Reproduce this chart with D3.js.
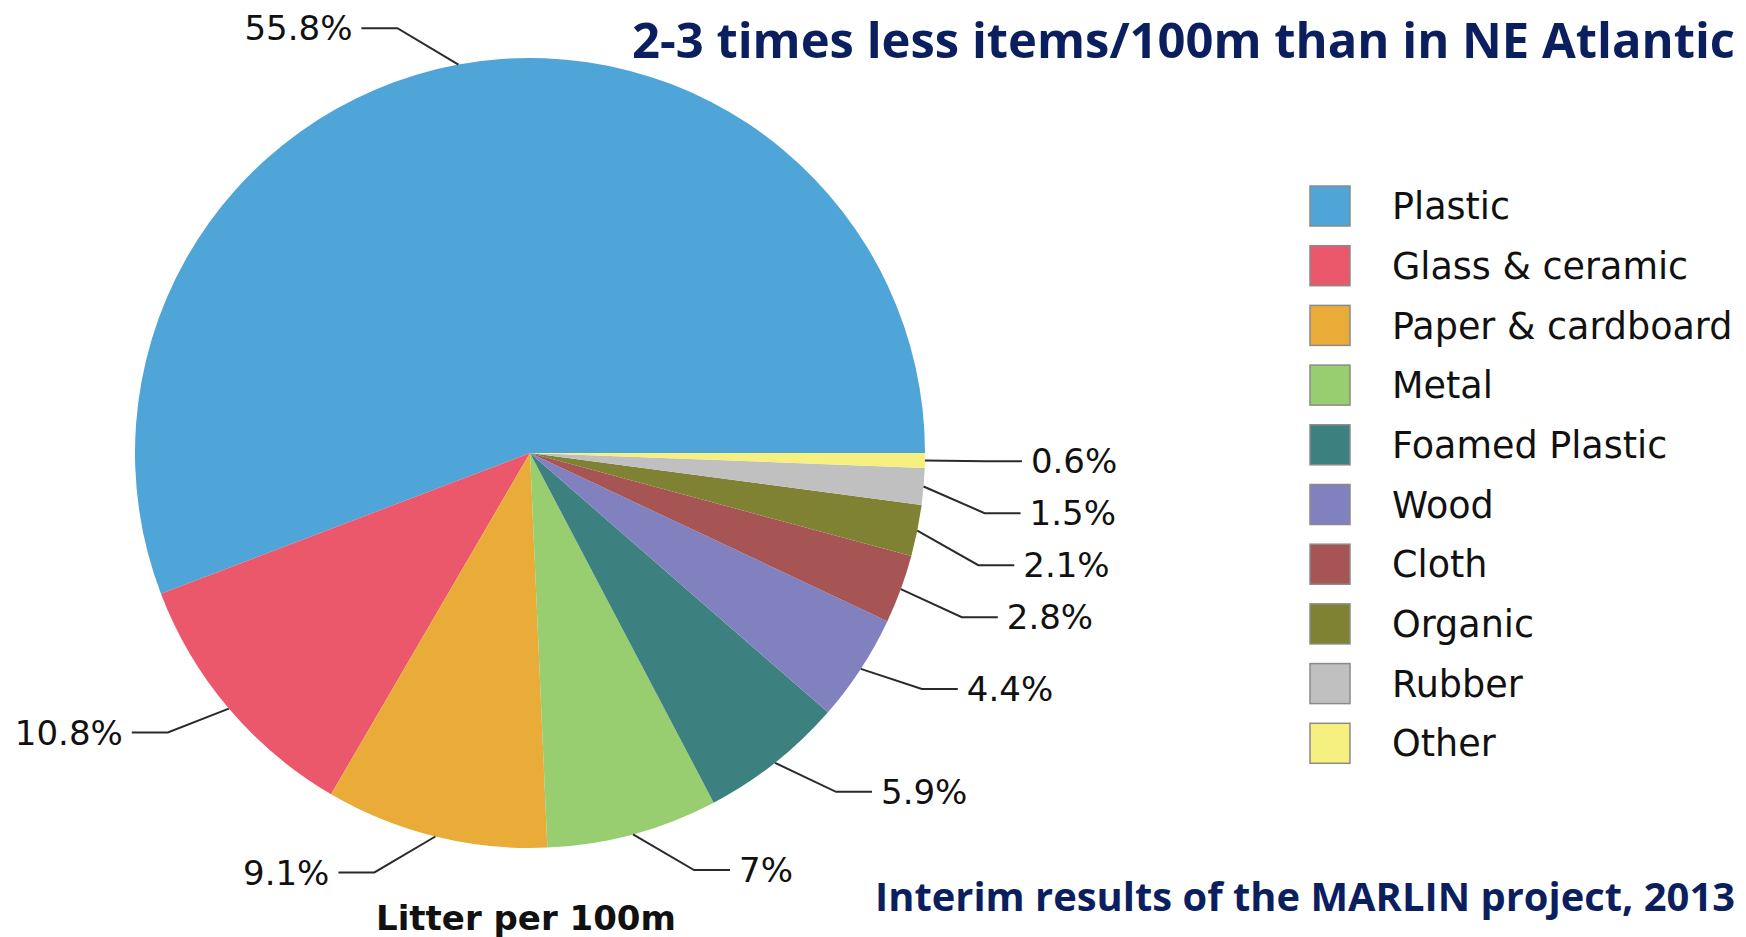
<!DOCTYPE html>
<html>
<head>
<meta charset="utf-8">
<script src="https://cdn.jsdelivr.net/npm/d3@7"></script>
<style>
  html, body { margin: 0; padding: 0; background: #fff; }
  svg { display: block; }
  .pctLabel { font-family: "DejaVu Sans", sans-serif; font-size: 34px; fill: #111; }
  .legendLabel { font-family: "DejaVu Sans", sans-serif; font-size: 36.5px; fill: #111; }
  .leader { fill: none; stroke: #2a2a2a; stroke-width: 2; }
  .headline { font-family: "Open Sans", sans-serif; font-weight: 700; fill: #0b1f5e; }
</style>
</head>
<body>
<svg id="chart" width="1746" height="937"></svg>
<script>
const categories = ['Plastic', 'Glass & ceramic', 'Paper & cardboard', 'Metal', 'Foamed Plastic',
  'Wood', 'Cloth', 'Organic', 'Rubber', 'Other']
const shares = [55.8, 10.8, 9.1, 7, 5.9, 4.4, 2.8, 2.1, 1.5, 0.6]
const shareLabels = ['55.8%', '10.8%', '9.1%', '7%', '5.9%', '4.4%', '2.8%', '2.1%', '1.5%', '0.6%']
const colors = ['#4fa4d8', '#eb586b', '#e9ac38', '#98cd70', '#3d8080',
  '#8181c0', '#a65454', '#7f8233', '#c0c0c0', '#f5f080']
const title = '2-3 times less items/100m than in NE Atlantic'
const subtitle = 'Interim results of the MARLIN project, 2013'
const pieTitle = 'Litter per 100m'

const dim = { cx: 530, cy: 453, r: 395 }
const svg = d3.select('#chart')

// slices run counterclockwise from 3 o'clock
const pie = d3.pie().sort(null).value((d) => d)
  .startAngle(Math.PI / 2).endAngle(Math.PI / 2 - 2 * Math.PI)
const arcs = pie(shares)
const arc = d3.arc().innerRadius(0).outerRadius(dim.r)
const color = d3.scaleOrdinal().domain(categories).range(colors)

const g = svg.append('g').attr('transform', `translate(${dim.cx},${dim.cy})`)

g.selectAll('path.slice')
  .data(arcs)
  .join('path')
  .attr('class', 'slice')
  .attr('d', arc)
  .attr('fill', (d, i) => color(categories[i]))

// label layout: edge point, elbow pushed outwards, then a short horizontal run
const labels = arcs.map((d, i) => {
  const a = (d.startAngle + d.endAngle) / 2
  const ex = Math.sin(a) * dim.r
  const ey = -Math.cos(a) * dim.r
  const side = ex >= 0 ? 1 : -1
  return { i, ex, ey, side, y: ey - Math.cos(a) * 37 }
})

function spread (items) {
  items.sort((a, b) => a.y - b.y)
  for (let k = 1; k < items.length; k++) {
    items[k].y = Math.max(items[k].y, items[k - 1].y + 52)
  }
}
spread(labels.filter((l) => l.side > 0))
spread(labels.filter((l) => l.side < 0))

labels.forEach((l) => {
  const elbowX = l.ex + l.side * 61
  const endX = elbowX + l.side * 36
  g.append('path')
    .attr('class', 'leader')
    .attr('d', d3.line()([[l.ex, l.ey], [elbowX, l.y], [endX, l.y]]))
  g.append('text')
    .attr('class', 'pctLabel')
    .attr('x', endX + l.side * 9)
    .attr('y', l.y)
    .attr('dy', '0.36em')
    .attr('text-anchor', l.side > 0 ? 'start' : 'end')
    .text(shareLabels[l.i])
})

// legend
const legend = svg.append('g').attr('transform', 'translate(1310,206)')
const rows = legend.selectAll('g')
  .data(categories)
  .join('g')
  .attr('transform', (d, i) => `translate(0,${i * 59.7})`)
rows.append('rect')
  .attr('x', 0).attr('y', -20).attr('width', 40).attr('height', 40)
  .attr('fill', (d) => color(d))
  .attr('stroke', '#8a8a8a').attr('stroke-width', 1.5)
rows.append('text')
  .attr('class', 'legendLabel')
  .attr('x', 82).attr('y', 0).attr('dy', '0.36em')
  .text((d) => d)

// titles
svg.append('text')
  .attr('class', 'headline')
  .attr('x', 1735).attr('y', 58)
  .attr('text-anchor', 'end')
  .attr('font-size', 49)
  .attr('textLength', 1103).attr('lengthAdjust', 'spacingAndGlyphs')
  .text(title)

svg.append('text')
  .attr('class', 'headline')
  .attr('x', 1735).attr('y', 911)
  .attr('text-anchor', 'end')
  .attr('font-size', 39)
  .attr('textLength', 860).attr('lengthAdjust', 'spacingAndGlyphs')
  .text(subtitle)

svg.append('text')
  .attr('x', dim.cx - 4).attr('y', 930)
  .attr('text-anchor', 'middle')
  .attr('font-family', '"DejaVu Sans", sans-serif')
  .attr('font-weight', 700)
  .attr('font-size', 34)
  .attr('fill', '#111')
  .text(pieTitle)
</script>
</body>
</html>
